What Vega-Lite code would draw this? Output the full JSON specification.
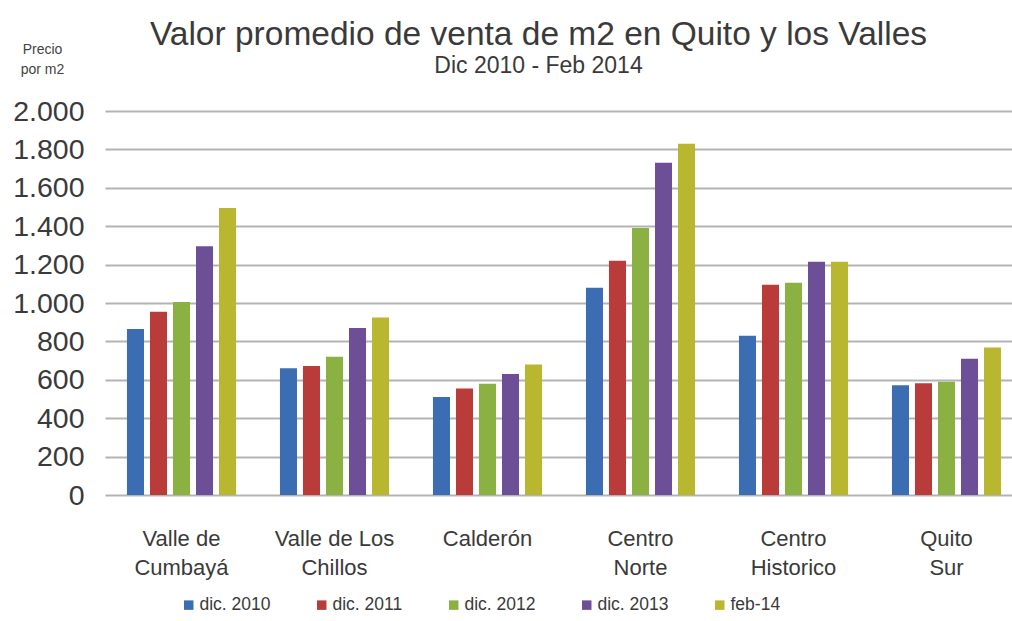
{
  "$schema": "https://vega.github.io/schema/vega-lite/v6.json",
  "width": 907,
  "height": 384,
  "autosize": {"type": "none"},
  "padding": {"left": 105, "top": 111, "right": 0, "bottom": 126},
  "background": "white",
  "title": {
    "text": "Valor promedio de venta de m2 en Quito y los Valles",
    "subtitle": "Dic 2010 - Feb 2014",
    "anchor": "middle",
    "frame": "group",
    "dx": -20,
    "offset": -37,
    "font": "Liberation Sans",
    "fontSize": 33.5,
    "fontWeight": "normal",
    "color": "#3a3a3a",
    "subtitleFont": "Liberation Sans",
    "subtitleFontSize": 23,
    "subtitleColor": "#3a3a3a",
    "subtitlePadding": 3
  },
  "data": {
    "values": [
      {"zona": "Valle de Cumbayá", "periodo": "dic. 2010", "precio": 865},
      {"zona": "Valle de Cumbayá", "periodo": "dic. 2011", "precio": 955},
      {"zona": "Valle de Cumbayá", "periodo": "dic. 2012", "precio": 1005},
      {"zona": "Valle de Cumbayá", "periodo": "dic. 2013", "precio": 1295},
      {"zona": "Valle de Cumbayá", "periodo": "feb-14", "precio": 1495},
      {"zona": "Valle de Los Chillos", "periodo": "dic. 2010", "precio": 660},
      {"zona": "Valle de Los Chillos", "periodo": "dic. 2011", "precio": 672},
      {"zona": "Valle de Los Chillos", "periodo": "dic. 2012", "precio": 720},
      {"zona": "Valle de Los Chillos", "periodo": "dic. 2013", "precio": 870},
      {"zona": "Valle de Los Chillos", "periodo": "feb-14", "precio": 925},
      {"zona": "Calderón", "periodo": "dic. 2010", "precio": 510},
      {"zona": "Calderón", "periodo": "dic. 2011", "precio": 555},
      {"zona": "Calderón", "periodo": "dic. 2012", "precio": 580},
      {"zona": "Calderón", "periodo": "dic. 2013", "precio": 630},
      {"zona": "Calderón", "periodo": "feb-14", "precio": 680},
      {"zona": "Centro Norte", "periodo": "dic. 2010", "precio": 1080},
      {"zona": "Centro Norte", "periodo": "dic. 2011", "precio": 1220},
      {"zona": "Centro Norte", "periodo": "dic. 2012", "precio": 1390},
      {"zona": "Centro Norte", "periodo": "dic. 2013", "precio": 1730},
      {"zona": "Centro Norte", "periodo": "feb-14", "precio": 1830},
      {"zona": "Centro Historico", "periodo": "dic. 2010", "precio": 830},
      {"zona": "Centro Historico", "periodo": "dic. 2011", "precio": 1095},
      {"zona": "Centro Historico", "periodo": "dic. 2012", "precio": 1105},
      {"zona": "Centro Historico", "periodo": "dic. 2013", "precio": 1215},
      {"zona": "Centro Historico", "periodo": "feb-14", "precio": 1215},
      {"zona": "Quito Sur", "periodo": "dic. 2010", "precio": 572},
      {"zona": "Quito Sur", "periodo": "dic. 2011", "precio": 582},
      {"zona": "Quito Sur", "periodo": "dic. 2012", "precio": 590},
      {"zona": "Quito Sur", "periodo": "dic. 2013", "precio": 710},
      {"zona": "Quito Sur", "periodo": "feb-14", "precio": 768}
    ]
  },
  "mark": {"type": "bar"},
  "encoding": {
    "x": {
      "field": "zona",
      "type": "nominal",
      "sort": ["Valle de Cumbayá", "Valle de Los Chillos", "Calderón", "Centro Norte", "Centro Historico", "Quito Sur"],
      "scale": {"paddingInner": 0.248, "paddingOuter": 0.124, "range": [0, 918]},
      "axis": {
        "title": null,
        "domain": false,
        "ticks": false,
        "labelAngle": 0,
        "labelFont": "Liberation Sans",
        "labelFontSize": 22,
        "labelColor": "#3a3a3a",
        "labelLineHeight": 29,
        "labelPadding": 33,
        "labelBaseline": "top",
        "labelExpr": "datum.value == 'Valle de Cumbayá' ? ['Valle de', 'Cumbayá'] : datum.value == 'Valle de Los Chillos' ? ['Valle de Los', 'Chillos'] : datum.value == 'Centro Norte' ? ['Centro', 'Norte'] : datum.value == 'Centro Historico' ? ['Centro', 'Historico'] : datum.value == 'Quito Sur' ? ['Quito', 'Sur'] : datum.value"
      }
    },
    "xOffset": {
      "field": "periodo",
      "sort": ["dic. 2010", "dic. 2011", "dic. 2012", "dic. 2013", "feb-14"],
      "scale": {"paddingInner": 0.26, "paddingOuter": 0.13}
    },
    "y": {
      "field": "precio",
      "type": "quantitative",
      "scale": {"domain": [0, 2000], "nice": false},
      "axis": {
        "values": [0, 200, 400, 600, 800, 1000, 1200, 1400, 1600, 1800, 2000],
        "domain": false,
        "ticks": false,
        "grid": true,
        "gridColor": "#b3b3b3",
        "gridWidth": 2,
        "labelFont": "Liberation Sans",
        "labelFontSize": 28.5,
        "labelColor": "#3a3a3a",
        "labelPadding": 21,
        "labelExpr": "replace(format(datum.value, ','), ',', '.')",
        "title": ["Precio", "por m2"],
        "titleAngle": 0,
        "titleAlign": "center",
        "titleBaseline": "alphabetic",
        "titleX": -63,
        "titleY": -58,
        "titleFont": "Liberation Sans",
        "titleFontSize": 14,
        "titleFontWeight": "normal",
        "titleColor": "#444444",
        "titleLineHeight": 20
      }
    },
    "color": {
      "field": "periodo",
      "type": "nominal",
      "sort": ["dic. 2010", "dic. 2011", "dic. 2012", "dic. 2013", "feb-14"],
      "scale": {
        "domain": ["dic. 2010", "dic. 2011", "dic. 2012", "dic. 2013", "feb-14"],
        "range": ["#3b6db3", "#b93b3a", "#8ab142", "#6c4f97", "#b8b72f"]
      },
      "legend": {
        "title": null,
        "orient": "none",
        "legendX": 75,
        "legendY": 485,
        "direction": "horizontal",
        "symbolType": "square",
        "symbolSize": 90,
        "symbolStrokeWidth": 0,
        "labelFont": "Liberation Sans",
        "labelFontSize": 17.5,
        "labelColor": "#3a3a3a",
        "labelOffset": 2,
        "columnPadding": 42
      }
    }
  },
  "config": {"view": {"stroke": null}}
}
